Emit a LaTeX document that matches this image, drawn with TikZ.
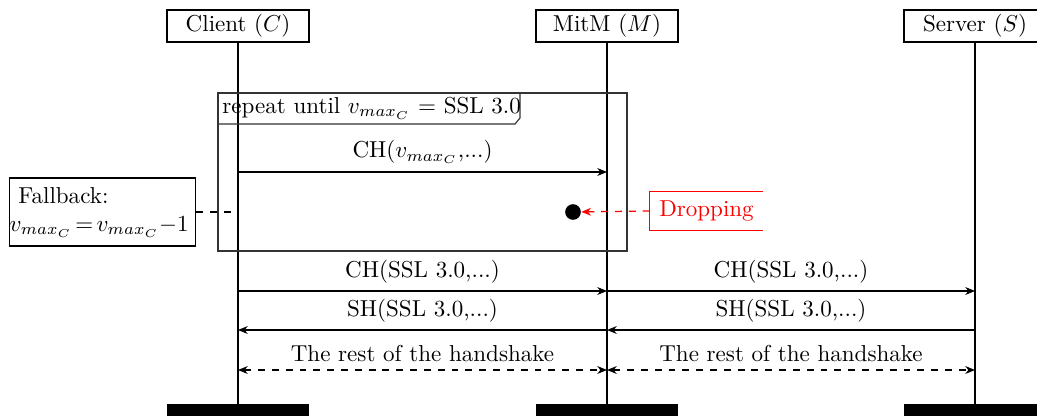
\documentclass[tikz,border=0pt]{standalone}
\usetikzlibrary{arrows.meta}
\begin{document}
\begin{tikzpicture}[x=0.434pt,y=-0.434pt,
  actor/.style={draw, line width=0.6pt, minimum width=61.6pt, minimum height=13.9pt, inner sep=0pt, fill=white},
  lifeline/.style={line width=0.8pt},
  endbar/.style={fill=black},
  msg/.style={line width=0.55pt, -{Stealth[length=4.2pt,width=3.4pt,inset=1.3pt]}},
  restmsg/.style={line width=0.55pt, dashed, {Stealth[length=4.2pt,width=3.4pt,inset=1.3pt]}-{Stealth[length=4.2pt,width=3.4pt,inset=1.3pt]}},
  lbl/.style={above, inner sep=3.3pt},
  frame/.style={draw=black!80, line width=0.5pt},
  note/.style={draw, line width=0.5pt, minimum width=81pt, minimum height=29.5pt, inner sep=0pt},
]
\useasboundingbox (0,0) rectangle (1037,416);
\clip (0,0) rectangle (1037,416);

% participants
\node[actor] (cli) at (238,26) {Client ($C$)};
\node[actor] (mim) at (607,26) {MitM ($M$)};
\node[actor] (srv) at (975,26) {Server ($S$)};

% end-of-thread bars
\path[endbar] (167,404) rectangle (309,424);
\path[endbar] (536,404) rectangle (678,424);
\path[endbar] (904,404) rectangle (1046,424);
\coordinate (cliend) at (238,404);
\coordinate (mimend) at (607,404);
\coordinate (srvend) at (975,404);

% lifelines
\draw[lifeline] (cli.south) -- (cliend);
\draw[lifeline] (mim.south) -- (mimend);
\draw[lifeline] (srv.south) -- (srvend);

% repeat frame with its label tab
\draw[frame] (218,93) rectangle (627,251);
\draw[frame] (218,93) -- (520,93) -- (520,118) -- (515,124) -- (218,124);
\node[anchor=west, inner sep=0pt] (rep) at (222,108) {repeat until $v_{max_C}$ = SSL 3.0};

% points on the lifelines
\coordinate (c1) at (238,172);
\coordinate (m1) at (607,172);
\coordinate (cf) at (238,212);
\coordinate (c2) at (238,291);
\coordinate (m2) at (607,291);
\coordinate (s2) at (975,291);
\coordinate (c3) at (238,330);
\coordinate (m3) at (607,330);
\coordinate (s3) at (975,330);
\coordinate (c4) at (238,370);
\coordinate (m4) at (607,370);
\coordinate (s4) at (975,370);

% first ClientHello inside the loop
\draw[msg] (c1) -- node[lbl] {CH($v_{max_C}$,...)} (m1);

% fallback note
\node[note] (fb) at (102.5,212) {};
\node[anchor=west, inner sep=0pt] (fbtitle) at (18,196) {Fallback:};
\node[anchor=east, inner sep=0pt] (fbrule) at (189,227)
  {$v_{max_C} \mkern-2.5mu=\mkern-2.5mu v_{max_C}{-}1$};
\draw[line width=0.5pt, dashed] (fb.east) -- (cf);

% dropped message
\node[circle, fill=black, minimum size=6.8pt, inner sep=0pt] (dot) at (573,212) {};
\node[red, minimum width=49pt, minimum height=16.5pt, inner sep=0pt] (drop) at (706.5,211) {Dropping};
\draw[red, line width=0.5pt] (drop.north east) -- (drop.north west) -- (drop.south west) -- (drop.south east);
\draw[red, line width=0.55pt, dashed, -{Stealth[length=4.2pt,width=3.4pt,inset=1.3pt]}] (drop.west) -- (dot);

% handshake after fallback
\draw[msg] (c2) -- node[lbl] {CH(SSL 3.0,...)} (m2);
\draw[msg] (m2) -- node[lbl] {CH(SSL 3.0,...)} (s2);
\draw[msg] (s3) -- node[lbl] {SH(SSL 3.0,...)} (m3);
\draw[msg] (m3) -- node[lbl] {SH(SSL 3.0,...)} (c3);
\draw[restmsg] (c4) -- node[lbl] {The rest of the handshake} (m4);
\draw[restmsg] (m4) -- node[lbl] {The rest of the handshake} (s4);
\end{tikzpicture}
\end{document}
